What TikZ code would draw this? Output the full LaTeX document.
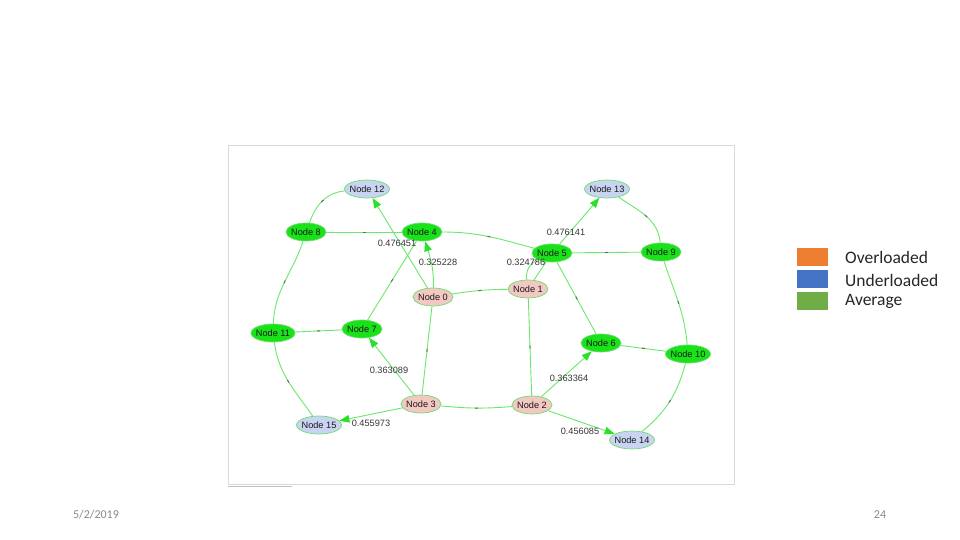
\documentclass[tikz,border=0pt]{standalone}
\usepackage{fontspec}
\setmainfont{Liberation Sans}
\newfontfamily\calfont{Carlito}
\usetikzlibrary{shapes.geometric,arrows.meta}
\definecolor{ngreen}{RGB}{25,226,25}
\definecolor{nborder}{RGB}{110,220,110}
\definecolor{edgec}{RGB}{105,232,105}
\definecolor{arrc}{RGB}{40,225,40}
\definecolor{npink}{RGB}{243,200,195}
\definecolor{nblue}{RGB}{200,212,242}
\definecolor{labgray}{RGB}{55,55,55}
\definecolor{overc}{RGB}{237,125,49}
\definecolor{underc}{RGB}{68,114,196}
\definecolor{avgc}{RGB}{112,173,71}
\definecolor{footc}{RGB}{137,137,137}
\tikzset{
  gnode/.style={ellipse, draw=nborder, line width=0.7pt, minimum width=40pt, minimum height=18pt, inner xsep=-1.5pt, inner ysep=0pt, font=\fontsize{9.2}{10}\selectfont, text=black!90},
  grn/.style={gnode, fill=ngreen},
  pnk/.style={gnode, fill=npink},
  blu/.style={gnode, fill=nblue},
  edge/.style={draw=edgec, line width=0.9pt},
  arr/.style={edge, -{Triangle[length=10pt,width=7.5pt,fill=arrc,color=arrc]}},
  tk/.style={sloped, fill=black!60, inner sep=0pt, minimum width=3pt, minimum height=1pt, draw=none, shape=rectangle},
  lab/.style={font=\fontsize{9.2}{10}\selectfont, text=labgray, inner sep=0pt},
  leg/.style={font=\calfont\fontsize{17.5}{19}\selectfont, text=black!85, anchor=west, inner sep=0pt},
  legbox/.style={minimum width=31pt, minimum height=18pt, inner sep=0pt, draw=none},
  foot/.style={font=\calfont\fontsize{12}{14}\selectfont, text=footc, inner sep=0pt}
}
\begin{document}
\begin{tikzpicture}[x=1pt,y=1pt]
\useasboundingbox (0,0) rectangle (960,-540);
\fill[white] (0,0) rectangle (960,-540);
% frame
\draw[black!15, line width=0.8pt] (228,-145) rectangle (734,-484);
\draw[black!25, line width=0.8pt] (228,-486.5) -- (292,-486.5);
% nodes
\node[blu] (n12) at (367,-189) {Node 12};
\node[blu] (n13) at (607,-189) {Node 13};
\node[grn] (n8)  at (306,-232) {Node 8};
\node[grn] (n4)  at (422,-232) {Node 4};
\node[grn] (n5)  at (552,-253) {Node 5};
\node[grn] (n9)  at (661,-252) {Node 9};
\node[pnk] (n0)  at (433,-297) {Node 0};
\node[pnk] (n1)  at (528,-289) {Node 1};
\node[grn] (n11) at (273,-333) {Node 11};
\node[grn] (n7)  at (362,-329) {Node 7};
\node[grn] (n6)  at (601,-343) {Node 6};
\node[grn] (n10) at (688,-354) {Node 10};
\node[pnk] (n3)  at (421,-404) {Node 3};
\node[pnk] (n2)  at (532,-405) {Node 2};
\node[blu] (n15) at (319,-425) {Node 15};
\node[blu] (n14) at (632,-440) {Node 14};
% undirected edges
\draw[edge] (n8) to[out=70,in=185] node[tk]{} (n12);
\draw[edge] (n8) -- node[tk]{} (n4);
\draw[edge] (n8) to[out=-108,in=88] node[tk]{} (n11);
\draw[edge] (n11) to[out=-82,in=125] node[tk]{} (n15);
\draw[edge] (n11) -- node[tk]{} (n7);
\draw[edge] (n4) -- node[tk]{} (n7);
\draw[edge] (n4) to[out=0,in=165] node[tk]{} (n5);
\draw[edge] (n0) to[bend left=4] node[tk]{} (n1);
\draw[edge] (n0) -- node[tk]{} (n3);
\draw[edge] (n1) -- node[tk]{} (n2);
\draw[edge] (n3) to[bend right=5] node[tk]{} (n2);
\draw[edge] (n5) -- node[tk]{} (n9);
\draw[edge] (n5) -- node[tk]{} (n6);
\draw[edge] (n6) -- node[tk]{} (n10);
\draw[edge] (n9) to[out=95,in=-35] node[tk]{} (n13);
\draw[edge] (n9) to[out=-72,in=95] node[tk]{} (n10);
\draw[edge] (n10) to[out=-105,in=40] node[tk]{} (n14);
\draw[edge] (n1) -- (n5);
\draw[edge] (n1) to[out=98,in=205] (n5);
% directed edges
\draw[arr] (n0) -- (n12);
\draw[arr] (n0) to[out=88,in=-72] (n4);
\draw[arr] (n5) -- (n13);
\draw[arr] (n3) -- (n7);
\draw[arr] (n3) -- (n15);
\draw[arr] (n2) -- (n6);
\draw[arr] (n2) -- (n14);
% edge labels
\node[lab] (l1) at (397,-243) {0.476451};
\node[lab] (l2) at (438,-262) {0.325228};
\node[lab] (l3) at (526,-262) {0.324786};
\node[lab] (l4) at (566,-232) {0.476141};
\node[lab] (l5) at (389,-370) {0.363089};
\node[lab] (l6) at (371,-423) {0.455973};
\node[lab] (l7) at (569,-378) {0.363364};
\node[lab] (l8) at (580,-431) {0.456085};
% legend
\node[legbox, fill=overc]  (b1) at (812.5,-257) {};
\node[legbox, fill=underc] (b2) at (812.5,-279) {};
\node[legbox, fill=avgc]   (b3) at (812.5,-301) {};
\node[leg] (t1) at (845,-257) {Overloaded};
\node[leg] (t2) at (845,-280) {Underloaded};
\node[leg] (t3) at (845,-301) {Average};
% footer
\node[foot] (date) at (96,-515) {5/2/2019};
\node[foot] (page) at (880,-515) {24};
\end{tikzpicture}
\end{document}
